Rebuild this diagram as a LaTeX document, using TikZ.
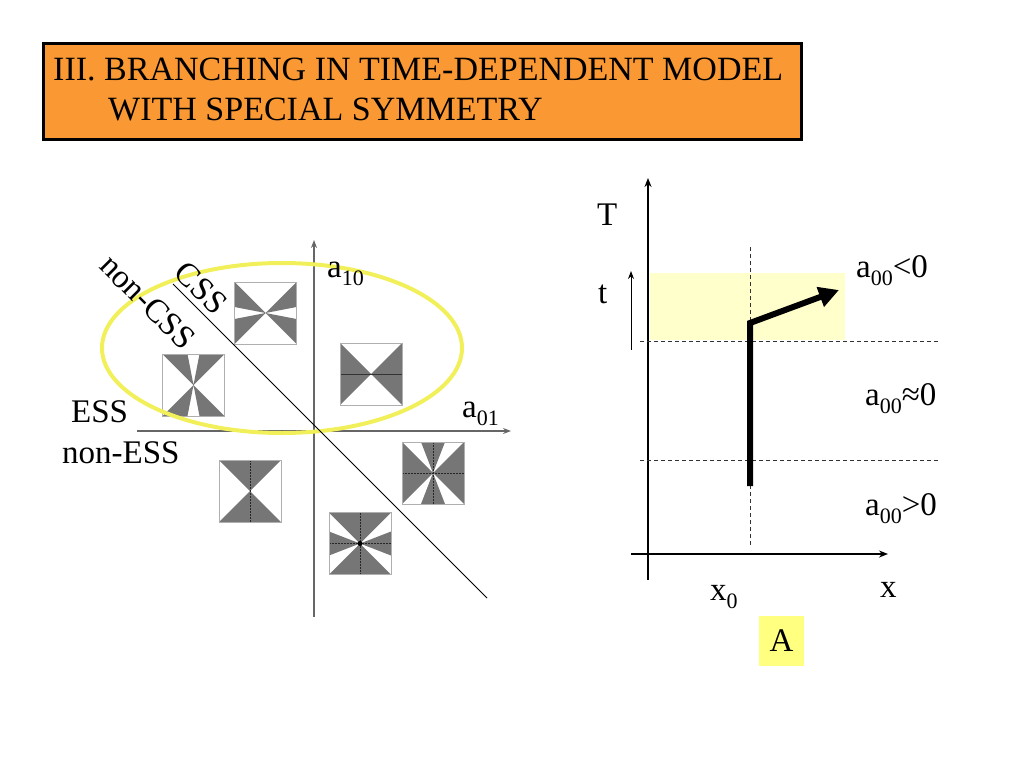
\documentclass[tikz,border=0pt]{standalone}
\usepackage{fontspec}
\setmainfont{Liberation Serif}
\usetikzlibrary{arrows.meta}
\definecolor{titleor}{RGB}{250,152,52}
\definecolor{ellyel}{RGB}{242,240,90}
\definecolor{paleyel}{RGB}{255,255,204}
\definecolor{boxyel}{RGB}{255,255,128}
\definecolor{wedgegray}{RGB}{118,118,118}
\definecolor{sqedge}{RGB}{175,175,175}
\newcommand{\lowidx}[1]{\raisebox{-0.25em}{\fontsize{22}{22}\selectfont #1}}
\begin{document}
\begin{tikzpicture}[x=1pt,y=-1pt,
  lbl/.style={inner sep=0pt,font=\fontsize{33}{38}\selectfont},
  ttl/.style={inner sep=0pt,font=\fontsize{34}{40}\selectfont},
  sqframe/.style={draw=sqedge,line width=1pt},
  wg/.style={fill=wedgegray},
  midline/.style={draw=black!85,line width=0.8pt,dash pattern=on 2pt off 1pt},
  leftaxis/.style={draw=black!60,line width=1.3pt,-{Stealth[length=8pt,width=6pt]}},
  rightaxis/.style={draw=black,line width=1.6pt,-{Stealth[length=9pt,width=7pt]}},
  dashline/.style={draw=black!80,line width=0.9pt,dash pattern=on 4pt off 3pt}]
\useasboundingbox (0,0) rectangle (1024,768);
% title
\node[draw=black,line width=3pt,fill=titleor,minimum width=758pt,minimum height=96pt,anchor=north west,inner sep=0pt] (titlebox) at (42,42) {};
\node[ttl,anchor=base west] (title1) at (53,80) {III. BRANCHING IN TIME-DEPENDENT MODEL};
\node[ttl,anchor=base west] (title2) at (108,120) {WITH SPECIAL SYMMETRY};
% ---------- left diagram ----------
\coordinate (vbot) at (314,617);
\coordinate (vtop) at (314,240);
\coordinate (hleft) at (137,431);
\coordinate (hright) at (511,431);
\draw[leftaxis] (vbot) -- (vtop);
\draw[leftaxis] (hleft) -- (hright);
% squares
% sq1
\begin{scope}[shift={(265.5,313)}]
\fill[wg] (0,0)--(-31,-31)--(-31,-6)--cycle (0,0)--(-31,6)--(-31,31)--cycle
          (0,0)--(31,-31)--(31,-6)--cycle (0,0)--(31,6)--(31,31)--cycle;
\draw[sqframe] (-31,-31) rectangle (31,31);
\end{scope}
% sq2
\begin{scope}[shift={(193.5,385)}]
\fill[wg] (0,0)--(-31,-31)--(-6,-31)--cycle (0,0)--(6,-31)--(31,-31)--cycle
          (0,0)--(-31,31)--(-6,31)--cycle (0,0)--(6,31)--(31,31)--cycle;
\draw[sqframe] (-31,-31) rectangle (31,31);
\end{scope}
% sq3
\begin{scope}[shift={(371,374)}]
\fill[wg] (0,0)--(-31,-31)--(-31,31)--cycle (0,0)--(31,-31)--(31,31)--cycle;
\draw[draw=black!80,line width=1pt] (-31,0)--(31,0);
\draw[sqframe] (-31,-31) rectangle (31,31);
\end{scope}
% sq4
\begin{scope}[shift={(250,491)}]
\fill[wg] (0,0)--(-31,-31)--(31,-31)--cycle (0,0)--(-31,31)--(31,31)--cycle;
\draw[midline] (0,-31)--(0,31);
\draw[sqframe] (-31,-31) rectangle (31,31);
\end{scope}
% sq5
\begin{scope}[shift={(433,473)}]
\fill[wg] (0,0)--(-31,-31)--(-31,31)--cycle (0,0)--(31,-31)--(31,31)--cycle
          (0,0)--(-12,-31)--(12,-31)--cycle (0,0)--(-12,31)--(12,31)--cycle;
\draw[midline] (0,-31)--(0,31) (-31,0)--(31,0);
\draw[sqframe] (-31,-31) rectangle (31,31);
\end{scope}
% sq6
\begin{scope}[shift={(360,543.5)}]
\fill[wg] (0,0)--(-31,-31)--(31,-31)--cycle (0,0)--(-31,31)--(31,31)--cycle
          (0,0)--(-31,-12)--(-31,12)--cycle (0,0)--(31,-12)--(31,12)--cycle;
\draw[midline] (0,-31)--(0,31) (-31,0)--(31,0);
\fill[black] (0,0) circle (2.5);
\draw[sqframe] (-31,-31) rectangle (31,31);
\end{scope}
% ellipse
\draw[ellyel,line width=4pt] (282,348) ellipse [x radius=180,y radius=85];
% diagonal
\coordinate (dstart) at (173,284);
\coordinate (dend) at (487,598);
\draw[black,line width=1pt] (dstart) -- (dend);
% labels
\node[lbl,rotate=-45] (css) at (201,288) {CSS};
\node[lbl,rotate=-45] (noncss) at (148,302) {non-CSS};
\node[lbl,anchor=base west] (a10) at (327,277) {a\lowidx{10}};
\node[lbl,anchor=base west] (a01) at (462,417) {a\lowidx{01}};
\node[lbl,anchor=base west] (ess) at (71,422) {ESS};
\node[lbl,anchor=base west] (ness) at (62,463) {non-ESS};
% ---------- right diagram ----------
\fill[paleyel] (650,273) rectangle (845,340);
\coordinate (Tbot) at (648,580);
\coordinate (Ttop) at (648,178);
\coordinate (xleft) at (631,554);
\coordinate (xright) at (888,554);
\draw[rightaxis] (Tbot) -- (Ttop);
\draw[rightaxis] (xleft) -- (xright);
\coordinate (tbot) at (631,350);
\coordinate (ttop) at (631,271);
\draw[draw=black,line width=1pt,-{Stealth[length=8pt,width=6pt]}] (tbot) -- (ttop);
\coordinate (d1l) at (640,341); \coordinate (d1r) at (938,341);
\coordinate (d2l) at (640,460); \coordinate (d2r) at (938,460);
\coordinate (vdt) at (750,247); \coordinate (vdb) at (750,546);
\draw[dashline] (d1l) -- (d1r);
\draw[dashline] (d2l) -- (d2r);
\draw[dashline] (vdt) -- (vdb);
\coordinate (pb) at (750,486);
\coordinate (pc) at (750,323);
\coordinate (pt) at (839,290);
\draw[black,line width=6pt,-{Triangle[length=20pt,width=20pt]}] (pb) -- (pc) -- (pt);
\node[lbl,anchor=base west] (Tl) at (597,225) {T};
\node[lbl,anchor=base west] (tl) at (598,303) {t};
\node[lbl,anchor=base west] (aneg) at (856,277) {a\lowidx{00}<0};
\node[lbl,anchor=base west] (azero) at (865,405) {a\lowidx{00}≈0};
\node[lbl,anchor=base west] (apos) at (865,515) {a\lowidx{00}>0};
\node[lbl,anchor=base west] (xl) at (880,597) {x};
\node[lbl,anchor=base west] (x0l) at (710,600) {x\lowidx{0}};
\node[fill=boxyel,minimum width=45pt,minimum height=50pt,inner sep=0pt] (abox) at (781.5,640.5) {};
\node[lbl] (al) at (abox.center) {A};
\end{tikzpicture}
\end{document}
